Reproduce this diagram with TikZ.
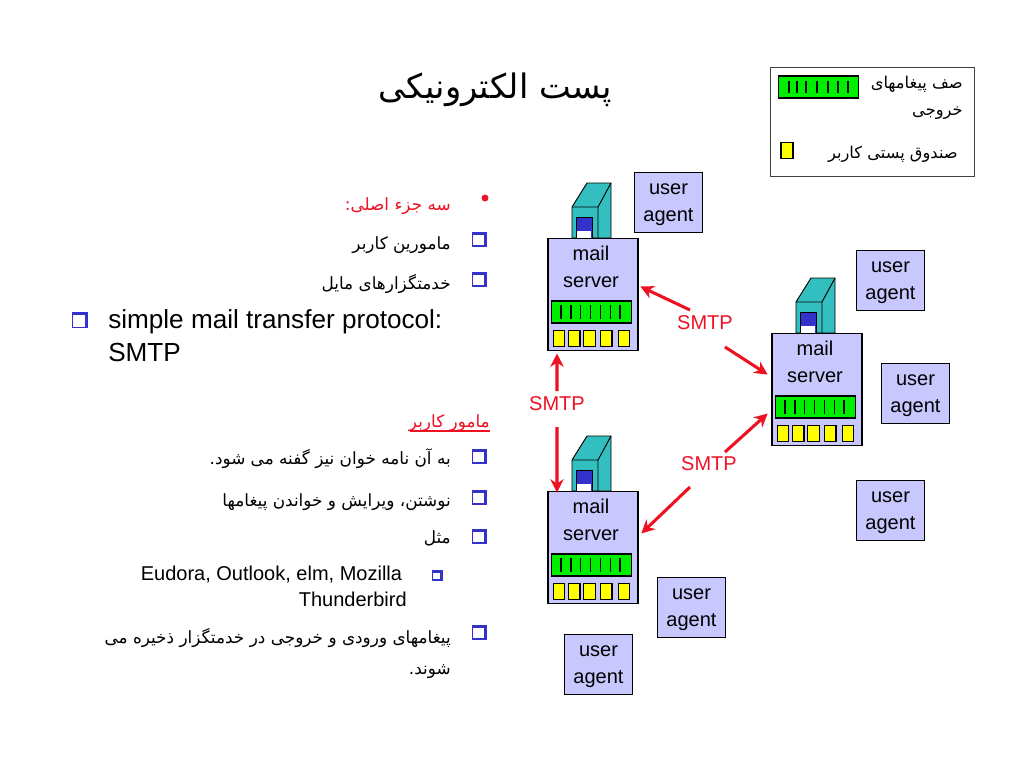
\documentclass[tikz,border=0pt]{standalone}
\usepackage{fontspec}
\setmainfont{Liberation Sans}
\newfontfamily\fa[Script=Arabic]{DejaVu Sans}
\TeXXeTstate=1
\usetikzlibrary{arrows.meta}
\definecolor{lav}{HTML}{C8C8FF}
\definecolor{teal1}{HTML}{33BFBF}
\definecolor{door}{HTML}{3333CC}
\definecolor{grn}{HTML}{00EE00}
\definecolor{ylw}{HTML}{FFFF00}
\definecolor{rd}{HTML}{EE1122}
\tikzset{
  boxy/.style={draw=black,line width=1.3pt,fill=lav,inner sep=0pt,outer sep=0pt},
  lbl/.style={font=\fontsize{15}{20.5}\selectfont,align=center,inner sep=0pt,text=black},
  queue/.style={draw=black,line width=1.3pt,fill=grn,inner sep=0pt,outer sep=0pt,minimum height=16pt},
  slot/.style={draw=black,line width=.8pt,fill=ylw,inner sep=0pt,outer sep=0pt},
  tick/.style={draw=black,line width=1.1pt},
  arr/.style={draw=rd,line width=2.3pt,-{Stealth[length=10pt,width=10pt]}},
  smtp/.style={font=\fontsize{15}{18}\selectfont,text=rd,inner sep=0pt},
  fatext/.style={inner sep=0pt,anchor=east,text=black,font=\fa\fontsize{12.65}{15}\selectfont},
  legtext/.style={inner sep=0pt,anchor=east,text=black,font=\fa\fontsize{12.2}{15}\selectfont},
  entext/.style={inner sep=0pt,text=black},
}
% user agent box: name, centre x, centre y
\newcommand{\uagent}[3]{%
  \node[boxy,minimum width=51pt,minimum height=45pt] (#1) at (#2,#3) {};
  \node[lbl] (#1t) at (#2,#3+2) {user\\agent};}
% mail server: name, left x, top y
\newcommand{\mserver}[3]{%
  \begin{scope}[shift={(#2,#3)}]
    \draw[black,line width=.7pt,fill=teal1] (25,0) -- (25,-31) -- (40,-55) -- (64,-55) -- (64,0) -- cycle;
    \draw[black,line width=.7pt] (25,-31) -- (51,-31) -- (64,-55) (51,-31) -- (51,0);
    \fill[door] (29,-21) rectangle (45,0);
    \draw[black,line width=.6pt] (29,0) -- (29,-21) -- (45,-21) -- (45,0);
    \fill[white] (30,-7) rectangle (44,0);
    \node[boxy,minimum width=68pt,minimum height=84pt] (#1) at (46,56.5) {};
    \node[lbl] (#1t) at (44,29) {mail\\server};
    \node[queue,minimum width=60pt] (#1q) at (44.5,74) {};
    \foreach \tx in {14,24,33.5,43.5,53.5,63.5,73} \draw[tick] (\tx,67) -- (\tx,81);
    \node[slot,minimum width=8.5pt,minimum height=12.5pt] (#1a) at (11.8,100.5) {};
    \node[slot,minimum width=8.5pt,minimum height=12.5pt] (#1b) at (27.3,100.5) {};
    \node[slot,minimum width=8.5pt,minimum height=12.5pt] (#1c) at (42.5,100.5) {};
    \node[slot,minimum width=8.5pt,minimum height=12.5pt] (#1d) at (59.3,100.5) {};
    \node[slot,minimum width=8.5pt,minimum height=12.5pt] (#1e) at (76.7,100.5) {};
  \end{scope}}
% square bullet: name, x, y, half size; heavy top and right edges
\newcommand{\cbox}[4]{%
  \coordinate (#1) at (#2,#3);
  \fill[door] ({#2-#4},{#3-#4}) rectangle ({#2+#4},{#3+#4});
  \fill[white] ({#2-#4+1.3},{#3-#4+3}) rectangle ({#2+#4-3},{#3+#4-1.3});}
\begin{document}
\begin{tikzpicture}[x=.75pt,y=-.75pt]
\useasboundingbox (0,0) rectangle (1024,768);
\fill[white] (0,0) rectangle (1024,768);

% title
\node[fatext,font=\fa\fontsize{25.3}{30}\selectfont] (title) at (612,90) {\beginR پست الکترونیکی\endR};

% legend
\node[draw=black!75,line width=.7pt,fill=white,minimum width=153.5pt,minimum height=82pt,inner sep=0pt,outer sep=0pt] (legend) at (872.5,122) {};
\node[queue,minimum width=60pt] (lq) at (818.5,87) {};
\foreach \tx in {789,797,806,817,828,838,848} \draw[tick] (\tx,81) -- (\tx,93);
\node[slot,minimum width=9pt,minimum height=12.5pt] (ly) at (787,150.5) {};
\node[legtext] (l1) at (963,84) {\beginR صف پیغامهای\endR};
\node[legtext] (l2) at (963,113) {\beginR خروجی\endR};
\node[legtext] (l3) at (958,154) {\beginR صندوق پستی کاربر\endR};

% left text
\fill[rd] (485,198) circle (2.6pt);
\node[fatext,text=rd] (t1) at (451,206) {\beginR سه جزء اصلی:\endR};
\cbox{b1}{479.5}{239}{7.5}
\node[fatext] (t2) at (451,245) {\beginR مامورین کاربر\endR};
\cbox{b2}{479.5}{279}{7.5}
\node[fatext] (t3) at (451,284) {\beginR خدمتگزارهای مایل\endR};
\cbox{b3}{79.5}{320}{8}
\node[entext,anchor=north west,align=left,font=\fontsize{19.6}{25}\selectfont] (t4) at (108,309) {simple mail transfer protocol:\\SMTP};

\node[fatext,text=rd] (t5) at (490,423) {\beginR مامور کاربر\endR};
\draw[rd,line width=.8pt] (410,431) -- (t5.south east |- 410,431);

\cbox{b4}{479.5}{456}{7.5}
\node[fatext] (t6) at (451,459) {\beginR به آن نامه خوان نیز گفنه می شود.\endR};
\cbox{b5}{479.5}{497}{7.5}
\node[fatext] (t7) at (451,502) {\beginR نوشتن، ویرایش و خواندن پیغامها\endR};
\cbox{b6}{479.5}{536}{7.5}
\node[fatext] (t8) at (451,538) {\beginR مثل\endR};
\cbox{b7}{437}{575}{5.5}
\node[entext,anchor=north east,align=right,font=\fontsize{15}{19}\selectfont] (t9) at (407,566) {Eudora, Outlook, elm, Mozilla\hspace*{3.5pt}\\Thunderbird};
\cbox{b8}{479.5}{632}{7.5}
\node[fatext] (t10) at (451,638) {\beginR پیغامهای ورودی و خروجی در خدمتگزار ذخیره می\endR};
\node[fatext] (t11) at (451,672) {\beginR شوند.\endR};

% servers
\mserver{sa}{547}{238}
\mserver{sb}{771}{333}
\mserver{sc}{547}{491}

% user agents
\uagent{ua}{668.5}{202.5}
\uagent{ub}{890.5}{280.5}
\uagent{uc}{915.5}{393.5}
\uagent{ud}{890.5}{510.5}
\uagent{ue}{691.5}{607.5}
\uagent{uf}{598.5}{664.5}

% SMTP labels
\node[smtp] (m1) at (705,323) {SMTP};
\node[smtp] (m2) at (557,404) {SMTP};
\node[smtp] (m3) at (709,464) {SMTP};

% connectors
\draw[arr] ([shift={(-15,-13)}]m1.center) -- ([shift={(2,48)}]sa.north east);
\draw[arr] ([shift={(20,24)}]m1.center) -- ([shift={(-4,41)}]sb.north west);
\draw[arr] ([shift={(0,-13)}]m2.center) -- ([shift={(9.33,3)}]sa.south west);
\draw[arr] ([shift={(0,23)}]m2.center) -- ([shift={(9.33,1)}]sc.north west);
\draw[arr] ([shift={(16,-12)}]m3.center) -- ([shift={(-4,80)}]sb.north west);
\draw[arr] ([shift={(-19,23)}]m3.center) -- ([shift={(3,42)}]sc.north east);
\end{tikzpicture}
\end{document}
